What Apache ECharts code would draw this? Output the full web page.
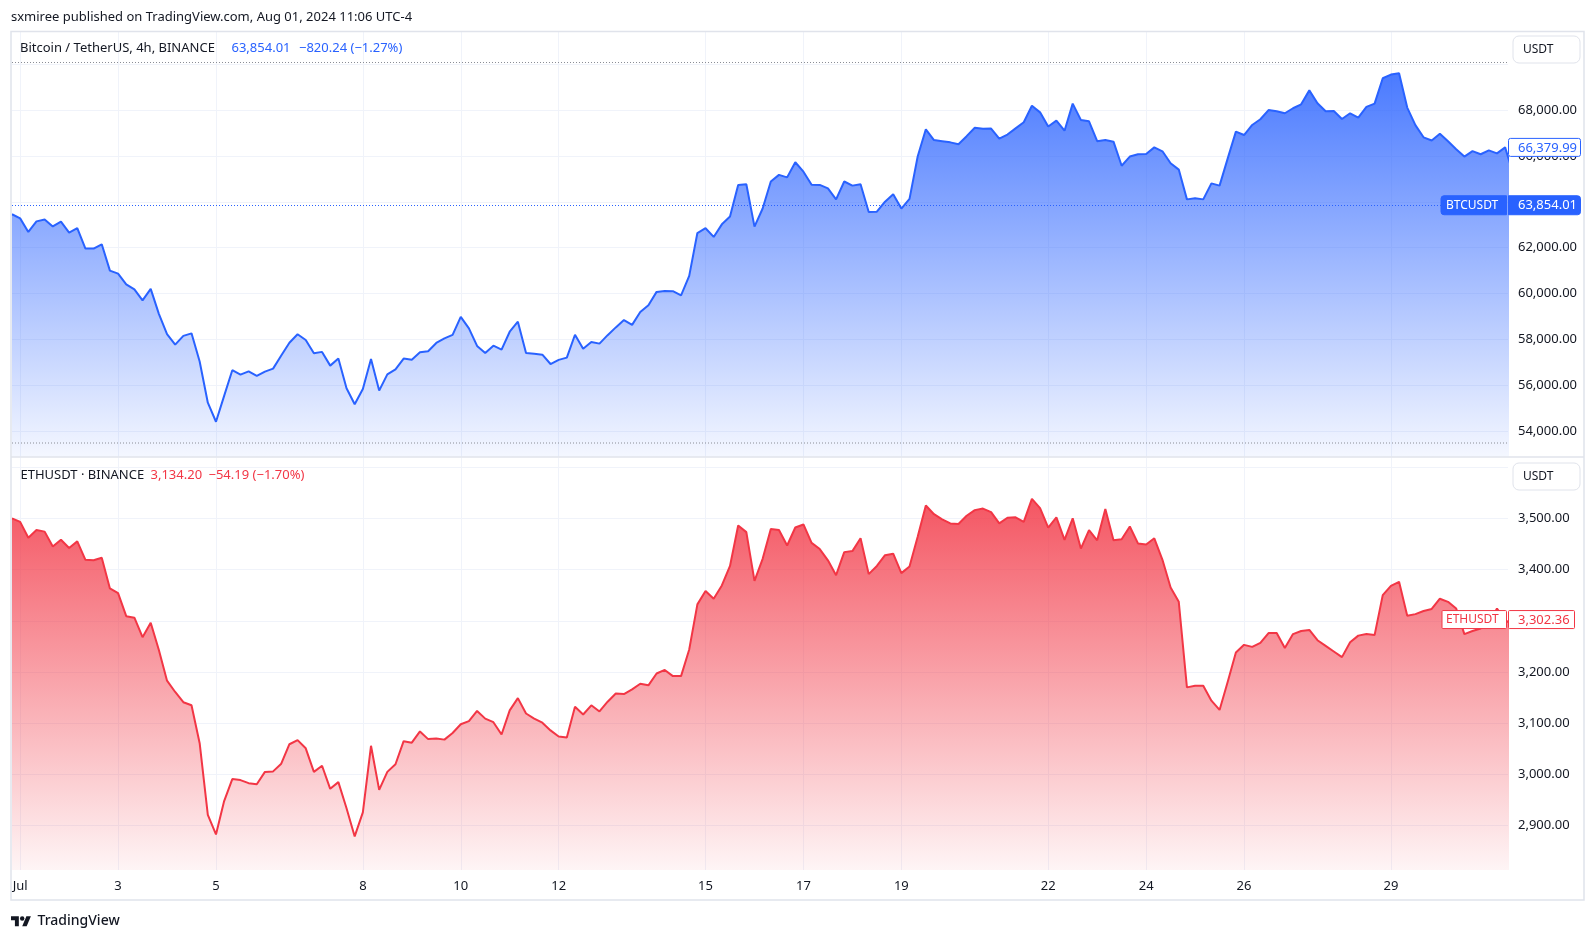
<!DOCTYPE html>
<html>
<head>
<meta charset="utf-8">
<title>BTCUSDT / ETHUSDT 4h</title>
<script src="https://cdn.jsdelivr.net/npm/echarts@6.0.0/dist/echarts.min.js"></script>
<style>
  html, body { margin: 0; padding: 0; background: #fff; }
  #chart { width: 1595px; height: 941px; }
</style>
</head>
<body>
<div id="chart"></div>
<script>
// 4h closes, bar 0 = Jun 30 20:00, last bar (184) is cut by the price scale
const btcClose = [
  63460, 63280, 62690, 63150, 63230, 62930, 63140, 62660, 62850, 61960,
  61960, 62150, 61000, 60870, 60400, 60180, 59700, 60200, 59110, 58230,
  57770, 58150, 58260, 57030, 55230, 54400, 55530, 56650, 56460, 56600,
  56400, 56590, 56720, 57290, 57850, 58220, 57970, 57390, 57450, 56850,
  57160, 55860, 55160, 55830, 57140, 55760, 56470, 56690, 57160, 57110,
  57430, 57480, 57840, 58040, 58190, 58980, 58480, 57710, 57400, 57720,
  57550, 58330, 58770, 57400, 57370, 57330, 56920, 57100, 57200, 58200,
  57590, 57880, 57810, 58180, 58520, 58840, 58630, 59190, 59490, 60070,
  60110, 60100, 59920, 60770, 62640, 62850, 62470, 63020, 63360, 64740,
  64770, 62920, 63710, 64890, 65180, 65070, 65730, 65320, 64750, 64740,
  64590, 64110, 64890, 64710, 64770, 63560, 63570, 64010, 64330, 63710,
  64130, 65980, 67170, 66700, 66650, 66600, 66520, 66870, 67240, 67190,
  67200, 66760, 66940, 67210, 67480, 68200, 67910, 67290, 67550, 67110,
  68290, 67580, 67520, 66650, 66700, 66630, 65580, 65980, 66080, 66090,
  66380, 66210, 65690, 65410, 64110, 64160, 64110, 64810, 64710, 65900,
  67070, 66920, 67360, 67610, 68010, 67960, 67870, 68090, 68260, 68870,
  68310, 67960, 67970, 67620, 67870, 67680, 68150, 68290, 69400, 69560,
  69620, 68120, 67350, 66820, 66680, 66980, 66650, 66300, 65980, 66220,
  66080, 66250, 66120, 66380, 65200
];

const ethClose = [
  3500, 3493, 3462, 3477, 3474, 3445, 3458, 3442, 3455, 3419,
  3418, 3423, 3363, 3354, 3309, 3306, 3268, 3296, 3243, 3183,
  3161, 3141, 3135, 3061, 2921, 2883, 2948, 2991, 2989, 2983,
  2981, 3005, 3006, 3021, 3059, 3067, 3051, 3005, 3017, 2972,
  2985, 2934, 2879, 2926, 3056, 2970, 3005, 3020, 3065, 3062,
  3084, 3069, 3070, 3068, 3081, 3098, 3104, 3124, 3109, 3102,
  3078, 3125, 3149, 3119, 3109, 3101, 3086, 3074, 3072, 3132,
  3117, 3135, 3123, 3142, 3158, 3157, 3166, 3177, 3174, 3197,
  3204, 3192, 3192, 3244, 3332, 3358, 3343, 3369, 3407, 3486,
  3473, 3378, 3421, 3479, 3477, 3447, 3482, 3488, 3452, 3440,
  3418, 3389, 3434, 3436, 3461, 3391, 3407, 3428, 3431, 3393,
  3406, 3464, 3525, 3508, 3498, 3490, 3489, 3505, 3516, 3519,
  3512, 3490, 3501, 3502, 3493, 3538, 3520, 3482, 3502, 3458,
  3500, 3441, 3477, 3457, 3518, 3457, 3459, 3484, 3451, 3449,
  3461, 3419, 3365, 3337, 3170, 3173, 3173, 3144, 3126, 3181,
  3238, 3253, 3249, 3257, 3276, 3276, 3247, 3274, 3280, 3282,
  3262, 3251, 3240, 3229, 3258, 3271, 3274, 3272, 3350, 3368,
  3376, 3310, 3313, 3319, 3323, 3343, 3337, 3324, 3274, 3280,
  3285, 3294, 3324, 3302, 3290
];

// time scale: July days that get a label
const dayTicks = [1, 3, 5, 8, 10, 12, 15, 17, 19, 22, 24, 26, 29];
const dayLabels = ['Jul', '3', '5', '8', '10', '12', '15', '17', '19', '22', '24', '26', '29'];

// price scales
const btcGridValues = [54000, 56000, 58000, 60000, 62000, 64000, 66000, 68000, 70000];
const btcLabelValues = [54000, 56000, 58000, 60000, 62000, 64000, 66000, 68000];
const ethGridValues = [2900, 3000, 3100, 3200, 3300, 3400, 3500, 3600];
const ethLabelValues = [2900, 3000, 3100, 3200, 3300, 3400, 3500];

const btcPrice = 63854.01;
const btcLastVisible = 66379.99;
const ethLastVisible = 3302.36;

const FONT = '"Noto Sans", Roboto, sans-serif';
const TEXT = '#131722';
const BLUE = '#2962ff';
const RED = '#f23645';
const GRID_LINE = '#f0f3fa';
const BORDER = '#e0e3eb';

const tickIdx = dayTicks.map((d) => (d - 1) * 6 + 1);
const labelByIdx = {};
tickIdx.forEach((v, k) => (labelByIdx[v] = dayLabels[k]));

const fmt = (v) => v.toLocaleString('en-US', { minimumFractionDigits: 2, maximumFractionDigits: 2 });

const xCommon = {
  type: 'value',
  min: 0,
  max: 183.35,
  axisLine: { show: false },
  axisTick: { show: false, customValues: tickIdx },
  splitLine: { show: true, lineStyle: { color: GRID_LINE, width: 1 } }
};

const yCommon = {
  type: 'value',
  position: 'right',
  axisLine: { show: false },
  splitLine: { show: true, lineStyle: { color: GRID_LINE, width: 1 } }
};

const option = {
  animation: false,
  backgroundColor: '#ffffff',
  textStyle: { fontFamily: FONT },
  grid: [
    { left: 12, right: 87, top: 32, height: 424.7, outerBoundsMode: 'none' },
    { left: 12, right: 87, top: 457.5, height: 412.5, outerBoundsMode: 'none' }
  ],
  xAxis: [
    { ...xCommon, gridIndex: 0, axisLabel: { show: false } },
    {
      ...xCommon,
      gridIndex: 1,
      axisLabel: {
        customValues: tickIdx,
        formatter: (v) => labelByIdx[Math.round(v)] || '',
        color: TEXT,
        fontSize: 13,
        fontFamily: FONT,
        margin: 10
      }
    }
  ],
  yAxis: [
    {
      ...yCommon,
      gridIndex: 0,
      min: 52873,
      max: 71419,
      axisTick: { show: false, customValues: btcGridValues },
      axisLabel: { customValues: btcLabelValues, formatter: fmt, color: TEXT, fontSize: 13, fontFamily: FONT, margin: 10 }
    },
    {
      ...yCommon,
      gridIndex: 1,
      min: 2813.5,
      max: 3618.7,
      axisTick: { show: false, customValues: ethGridValues },
      axisLabel: { customValues: ethLabelValues, formatter: fmt, color: TEXT, fontSize: 13, fontFamily: FONT, margin: 10 }
    }
  ],
  series: [
    {
      name: 'BTCUSDT',
      type: 'line',
      xAxisIndex: 0,
      yAxisIndex: 0,
      data: btcClose.map((v, i) => [i, v]),
      showSymbol: false,
      symbol: 'none',
      clip: true,
      lineStyle: { color: BLUE, width: 2 },
      itemStyle: { color: BLUE },
      areaStyle: {
        opacity: 1,
        color: new echarts.graphic.LinearGradient(0, 70, 0, 457, [
          { offset: 0, color: 'rgba(41,98,255,0.85)' },
          { offset: 1, color: 'rgba(41,98,255,0.05)' }
        ], true)
      },
      markLine: {
        silent: true,
        symbol: ['none', 'none'],
        label: { show: false },
        lineStyle: { color: BLUE, type: [1, 2], width: 1 },
        data: [{ yAxis: btcPrice }]
      }
    },
    {
      name: 'ETHUSDT',
      type: 'line',
      xAxisIndex: 1,
      yAxisIndex: 1,
      data: ethClose.map((v, i) => [i, v]),
      showSymbol: false,
      symbol: 'none',
      clip: true,
      lineStyle: { color: RED, width: 2 },
      itemStyle: { color: RED },
      areaStyle: {
        opacity: 1,
        color: new echarts.graphic.LinearGradient(0, 495, 0, 870, [
          { offset: 0, color: 'rgba(242,54,69,0.85)' },
          { offset: 1, color: 'rgba(242,54,69,0.05)' }
        ], true)
      }
    }
  ]
};

const chart = echarts.init(document.getElementById('chart'), null, { renderer: 'canvas' });
chart.setOption(option);

const text = (x, y, str, color, size, extra) => ({
  type: 'text',
  x: x,
  y: y,
  z: 100,
  style: Object.assign({
    text: str,
    fill: color,
    font: size + 'px ' + FONT,
    align: 'left',
    verticalAlign: 'middle'
  }, extra || {})
});

const box = (x, y, w, h, fill, stroke, r) => ({
  type: 'rect',
  z: 99,
  shape: { x: x, y: y, width: w, height: h, r: r },
  style: { fill: fill, stroke: stroke, lineWidth: 1 }
});

const yBtcPrice = chart.convertToPixel({ yAxisIndex: 0 }, btcPrice);
const yBtcLast = chart.convertToPixel({ yAxisIndex: 0 }, btcLastVisible);
const yEthLast = chart.convertToPixel({ yAxisIndex: 1 }, ethLastVisible);

// TradingView logo, drawn from the 36x28 mark
const LOGO_X = 11, LOGO_Y = 914, LOGO_S = 0.56;
const logoPts = (pts) => pts.map((p) => [LOGO_X + p[0] * LOGO_S, LOGO_Y + p[1] * LOGO_S]);

const graphics = [
  // header
  text(11, 17, 'sxmiree published on TradingView.com, Aug 01, 2024 11:06 UTC-4', TEXT, 13),
  // outer frame and pane separator
  {
    type: 'rect', z: 98, silent: true,
    shape: { x: 11, y: 31.5, width: 1573, height: 868.5 },
    style: { fill: 'none', stroke: BORDER, lineWidth: 1.5 }
  },
  {
    type: 'line', z: 98, silent: true,
    shape: { x1: 11, y1: 457, x2: 1584, y2: 457 },
    style: { stroke: BORDER, lineWidth: 1.5 }
  },
  // pane margin lines of the top pane
  {
    type: 'line', z: 98, silent: true,
    shape: { x1: 12, y1: 62.5, x2: 1507, y2: 62.5 },
    style: { stroke: '#8a8d96', lineWidth: 1, lineDash: [1, 2] }
  },
  {
    type: 'line', z: 98, silent: true,
    shape: { x1: 12, y1: 443, x2: 1507, y2: 443 },
    style: { stroke: '#8a8d96', lineWidth: 1, lineDash: [1, 2] }
  },
  // legends
  text(20, 48.5, 'Bitcoin / TetherUS, 4h, BINANCE', TEXT, 13),
  text(231.5, 48.5, '63,854.01', BLUE, 13),
  text(299, 48.5, '\u2212820.24 (\u22121.27%)', BLUE, 13),
  text(20.5, 475.5, 'ETHUSDT \u00b7 BINANCE', TEXT, 13),
  text(150.5, 475.5, '3,134.20', RED, 13),
  text(208.5, 475.5, '\u221254.19 (\u22121.70%)', RED, 13),
  // currency buttons
  box(1513, 36, 67, 27, '#ffffff', BORDER, 6),
  text(1523, 50, 'USDT', TEXT, 12),
  box(1513, 463, 67, 27, '#ffffff', BORDER, 6),
  text(1523, 477, 'USDT', TEXT, 12),
  // BTC last visible value
  box(1508.5, yBtcLast - 9, 72, 18, '#ffffff', BLUE, 2),
  text(1518, yBtcLast + 0.5, fmt(btcLastVisible), BLUE, 13),
  // BTC price line labels
  box(1441, yBtcPrice - 9.5, 65.5, 19, BLUE, BLUE, [3, 0, 0, 3]),
  text(1446, yBtcPrice + 0.5, 'BTCUSDT', '#ffffff', 12),
  box(1508.5, yBtcPrice - 9.5, 72, 19, BLUE, BLUE, [0, 3, 3, 0]),
  text(1518, yBtcPrice + 0.5, fmt(btcPrice), '#ffffff', 13),
  // ETH last visible value
  box(1442, yEthLast - 9, 64.5, 18, '#ffffff', RED, 1),
  text(1446, yEthLast + 0.5, 'ETHUSDT', RED, 12),
  box(1508.5, yEthLast - 9, 66, 18, '#ffffff', RED, 1),
  text(1518, yEthLast + 0.5, fmt(ethLastVisible), RED, 13),
  // TradingView logo
  {
    type: 'polygon', z: 100, silent: true,
    shape: { points: logoPts([[0, 4], [14, 4], [14, 22], [7, 22], [7, 11], [0, 11]]) },
    style: { fill: TEXT }
  },
  {
    type: 'polygon', z: 100, silent: true,
    shape: { points: logoPts([[20, 22], [27.5, 4], [35.5, 4], [28, 22]]) },
    style: { fill: TEXT }
  },
  {
    type: 'circle', z: 100, silent: true,
    shape: { cx: LOGO_X + 20 * LOGO_S, cy: LOGO_Y + 8 * LOGO_S, r: 4 * LOGO_S },
    style: { fill: TEXT }
  },
  text(37.5, 921.5, 'TradingView', TEXT, 14, { font: '500 14px ' + FONT })
];

chart.setOption({ graphic: graphics });
</script>
</body>
</html>
